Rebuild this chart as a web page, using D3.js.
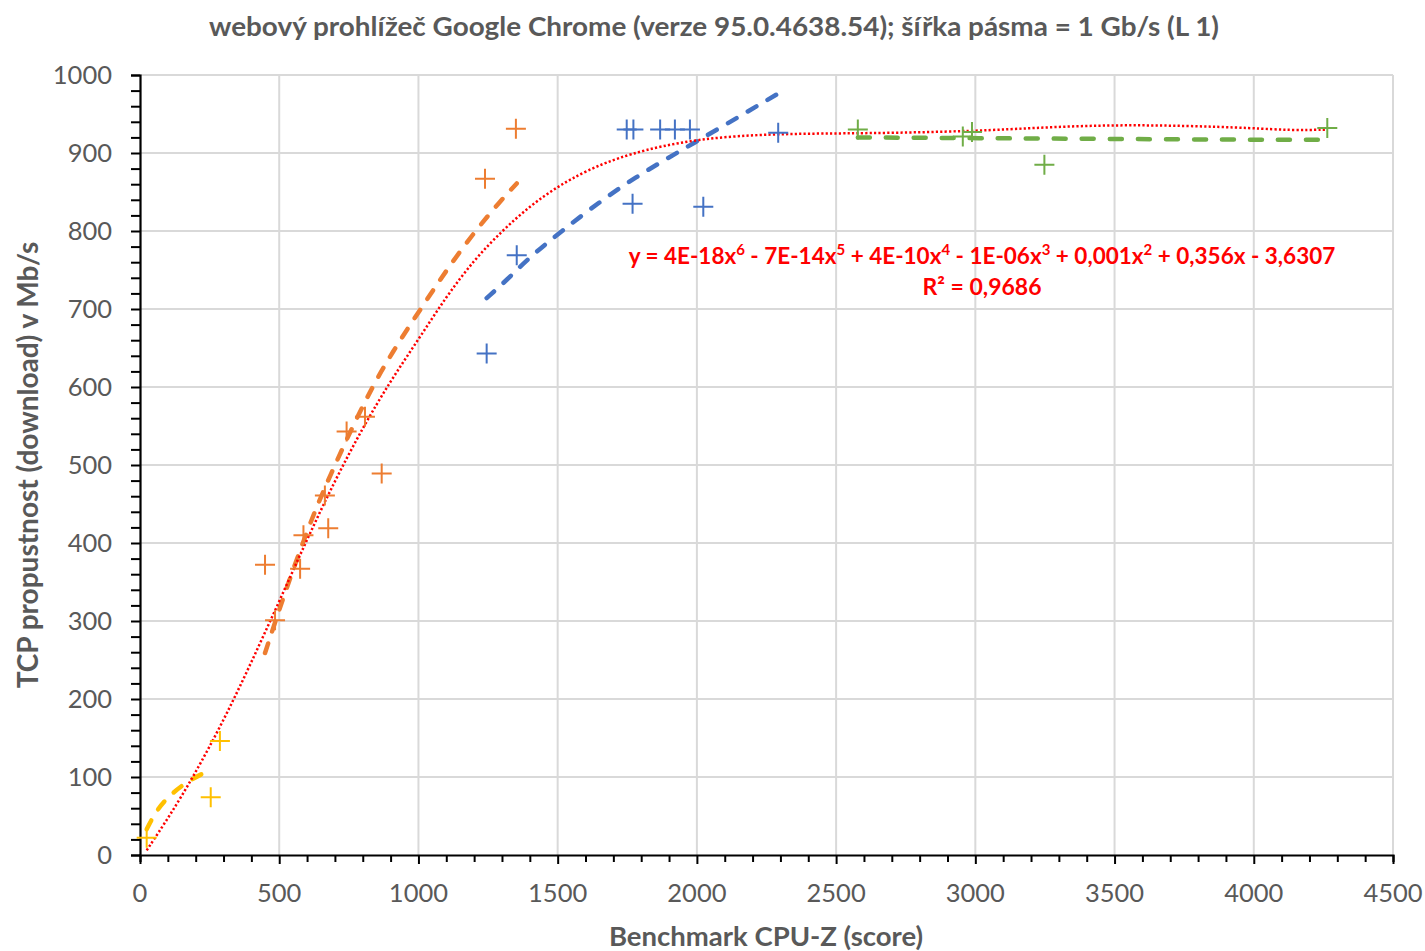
<!DOCTYPE html>
<html>
<head>
<meta charset="utf-8">
<script src="https://cdn.jsdelivr.net/npm/d3@7"></script>
<style>
  body { margin: 0; background: white; }
  text { font-family: Lato, "Open Sans", sans-serif; }
</style>
</head>
<body>
<div id="container"></div>
<script>
let w = 1425;
let h = 951;

// DATA
let yellowX = [24, 254, 287];
let yellowY = [22, 74, 146];
let orangeX = [449, 485, 575, 587, 664, 676, 742, 808, 868, 1239, 1350];
let orangeY = [372, 301, 367, 410, 461, 419, 543, 562, 489, 867, 931];
let blueX = [1245, 1353, 1748, 1772, 1769, 1868, 1921, 1975, 2023, 2292];
let blueY = [643, 769, 930, 930, 835, 930, 930, 930, 831, 926];
let greenX = [2578, 2955, 2988, 3248, 4264];
let greenY = [930, 921, 927, 885, 932];

// trendlines
let yellowTrend = [[24,33],[60,58],[108,77],[168,94],[240,107],[257,110]];
let orangeTrend = [[449,259],[515,331],[604,420],[676,482],[814,588],[910,647],[1006,699],[1101,750],[1197,797],[1293,838],[1353,861]];
let blueTrend = [[1245,714],[1317,737],[1389,763],[1496,795],[1736,861],[1987,912],[2291,976]];
let greenTrend = [[2578,920],[3000,919],[3500,918],[4000,917],[4264,917]];
let redTrend = [[24,6],[108,51],[191,100],[300,172],[400,247],[500,325],[600,405],[700,480],[800,548],[900,608],[1000,661],[1100,716],[1200,763],[1300,800],[1400,832],[1500,857],[1600,877],[1750,899],[2000,919],[2300,925],[2600,925],[3000,928],[3250,933],[3500,936],[3750,935],[4000,932],[4130,929],[4264,930]];

let xTicks = [0, 500, 1000, 1500, 2000, 2500, 3000, 3500, 4000, 4500];
let yTicks = [0, 100, 200, 300, 400, 500, 600, 700, 800, 900, 1000];

let titleText = "webový prohlížeč Google Chrome (verze 95.0.4638.54); šířka pásma = 1 Gb/s (L 1)";
let xTitle = "Benchmark CPU-Z (score)";
let yTitle = "TCP propustnost (download) v Mb/s";
let eqParts = [["y = 4E-18x", "6"], [" - 7E-14x", "5"], [" + 4E-10x", "4"], [" - 1E-06x", "3"], [" + 0,001x", "2"], [" + 0,356x - 3,6307", ""]];
let r2Text = "R² = 0,9686";

let grey = "#595959";

// SVG
let viz = d3.select("#container").append("svg")
    .attr("width", w)
    .attr("height", h)
    .style("background-color", "white")
;

// SCALES
let xScale = d3.scaleLinear().domain([0, 4500]).range([140, 1393]);
let yScale = d3.scaleLinear().domain([0, 1000]).range([855, 75]);

// GRID
viz.selectAll(".vgrid").data(xTicks.slice(1)).enter()
  .append("line")
    .attr("x1", d => xScale(d)).attr("x2", d => xScale(d))
    .attr("y1", yScale(0)).attr("y2", yScale(1000))
    .attr("stroke", "#d9d9d9").attr("stroke-width", 2)
;
viz.selectAll(".hgrid").data(yTicks.slice(1)).enter()
  .append("line")
    .attr("x1", xScale(0)).attr("x2", xScale(4500))
    .attr("y1", d => yScale(d)).attr("y2", d => yScale(d))
    .attr("stroke", "#d9d9d9").attr("stroke-width", 2)
;

// AXES
let xAxis = d3.axisBottom(xScale).tickValues(d3.range(0, 4501, 100)).tickSize(7).tickFormat("");
let yAxis = d3.axisLeft(yScale).tickValues(d3.range(0, 1001, 20)).tickSize(9).tickFormat("");

let gx = viz.append("g").attr("transform", "translate(0," + yScale(0) + ")").call(xAxis);
let gy = viz.append("g").attr("transform", "translate(" + xScale(0) + ",0)").call(yAxis);
[gx, gy].forEach(function(g){
  g.select(".domain").attr("stroke", "black").attr("stroke-width", 2.2);
  g.selectAll(".tick line").attr("stroke", "black").attr("stroke-width", 2);
});
gx.selectAll(".tick line").attr("y2", d => d % 500 == 0 ? 9 : 7);

// tick labels
viz.selectAll(".xlab").data(xTicks).enter()
  .append("text")
    .attr("x", d => xScale(d))
    .attr("y", 902)
    .attr("text-anchor", "middle")
    .attr("font-size", 25.5)
    .attr("fill", grey)
    .text(d => d)
;
viz.selectAll(".ylab").data(yTicks).enter()
  .append("text")
    .attr("x", 112)
    .attr("y", d => yScale(d) + 9)
    .attr("text-anchor", "end")
    .attr("font-size", 25.5)
    .attr("fill", grey)
    .text(d => d)
;

// TITLES
viz.append("text")
    .attr("x", 714).attr("y", 36)
    .attr("text-anchor", "middle")
    .attr("font-size", 26).attr("font-weight", "bold")
    .attr("textLength", 1010).attr("lengthAdjust", "spacingAndGlyphs")
    .attr("fill", grey)
    .text(titleText)
;
viz.append("text")
    .attr("x", 766).attr("y", 946)
    .attr("text-anchor", "middle")
    .attr("font-size", 27.5).attr("font-weight", "bold")
    .attr("fill", grey)
    .text(xTitle)
;
viz.append("text")
    .attr("transform", "translate(38,465) rotate(-90)")
    .attr("text-anchor", "middle")
    .attr("font-size", 28).attr("font-weight", "bold")
    .attr("fill", grey)
    .text(yTitle)
;

// TRENDLINES
let lineMaker = d3.line()
    .x(d => xScale(d[0]))
    .y(d => yScale(d[1]))
    .curve(d3.curveBasis)
;
let dashed = [
  [yellowTrend, "#FFC000", "10,13"],
  [orangeTrend, "#ED7D31", "10,13"],
  [blueTrend, "#4472C4", "10,13"],
  [greenTrend, "#70AD47", "12,16"]
];
dashed.forEach(function(t){
  viz.append("path")
    .attr("d", lineMaker(t[0]))
    .attr("fill", "none")
    .attr("stroke", t[1])
    .attr("stroke-width", 4.5)
    .attr("stroke-linecap", "round")
    .attr("stroke-dasharray", t[2])
  ;
});
viz.append("path")
    .attr("d", lineMaker(redTrend))
    .attr("fill", "none")
    .attr("stroke", "#FF0000")
    .attr("stroke-width", 2.5)
    .attr("stroke-dasharray", "2.2,2.2")
;

// POINTS
let series = [
  [yellowX, yellowY, "#FFC000"],
  [orangeX, orangeY, "#ED7D31"],
  [blueX, blueY, "#4472C4"],
  [greenX, greenY, "#70AD47"]
];
series.forEach(function(s){
  let pts = s[0].map((x, i) => [x, s[1][i]]);
  viz.append("g").selectAll("path").data(pts).enter()
    .append("path")
      .attr("d", d => "M" + (xScale(d[0]) - 10) + "," + yScale(d[1]) + "h20M" + xScale(d[0]) + "," + (yScale(d[1]) - 10) + "v20")
      .attr("stroke", s[2])
      .attr("stroke-width", 2)
      .attr("fill", "none")
  ;
});

// EQUATION LABEL
let eq = viz.append("text")
    .attr("x", 982).attr("y", 264)
    .attr("text-anchor", "middle")
    .attr("font-size", 22.5).attr("font-weight", "bold")
    .attr("fill", "#FF0000")
;
let shift = 0;
eqParts.forEach(function(p){
  eq.append("tspan").attr("dy", -shift).text(p[0]);
  shift = 0;
  if (p[1] != "") {
    eq.append("tspan").attr("dy", -9).attr("font-size", 15).text(p[1]);
    shift = -9;
  }
});
viz.append("text")
    .attr("x", 982).attr("y", 295)
    .attr("text-anchor", "middle")
    .attr("font-size", 23).attr("font-weight", "bold")
    .attr("fill", "#FF0000")
    .text(r2Text)
;
</script>
</body>
</html>
